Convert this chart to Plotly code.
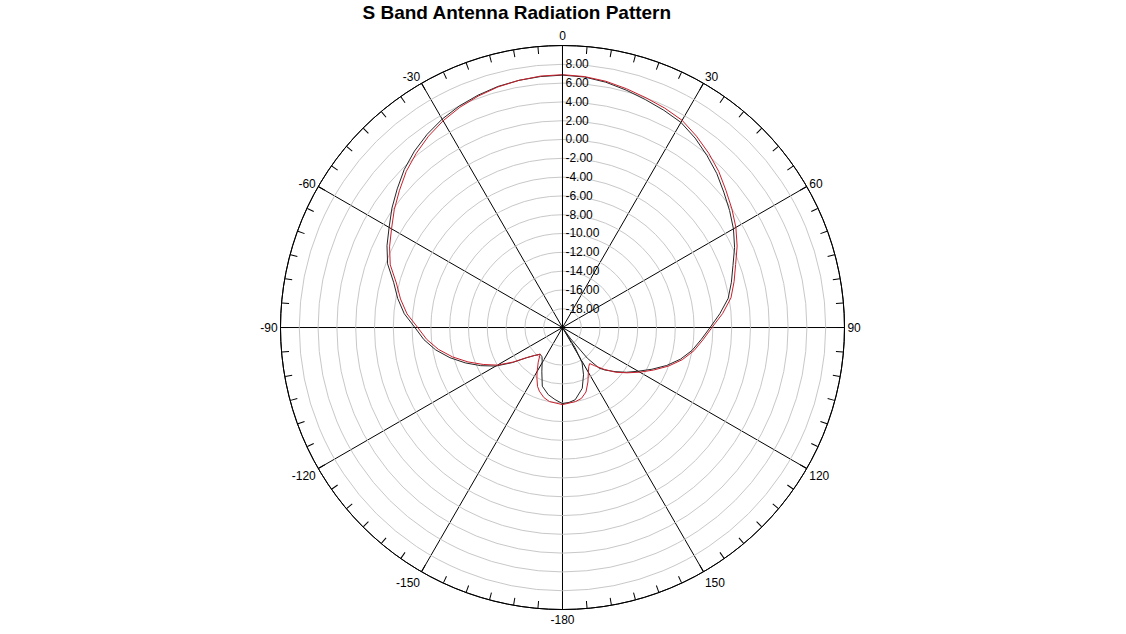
import plotly.graph_objects as go

theta_red = [-180, -170, -165, -160, -157, -153, -150, -145, -140, -137, -135, -130, -125, -120,
             -115, -110, -105, -100, -95, -90, -85, -80, -75, -70, -65, -60, -55, -50, -45, -40,
             -35, -30, -25, -20, -15, -10, -5, 0,
             5, 10, 15, 20, 25, 30, 35, 40, 45, 50, 55, 60, 65, 70, 75, 80, 85, 90,
             95, 100, 105, 110, 115, 120, 125, 130, 135, 140,
             143, 146, 150, 155, 160, 165, 170, 180]
r_red = [-11.8, -12.0, -12.3, -12.8, -13.2, -14.0, -14.6, -15.5, -16.3, -16.0, -15.8, -15.0, -13.6, -12.0,
         -10.7, -9.3, -7.9, -6.6, -5.5, -4.6, -3.4, -2.5, -1.7, -0.5, 0.3, 1.0, 1.85, 2.65, 3.5, 4.2,
         4.85, 5.4, 5.85, 6.2, 6.5, 6.7, 6.85, 6.9,
         6.8, 6.6, 6.3, 6.0, 5.75, 5.45, 4.85, 4.2, 3.5, 2.7, 2.0, 1.3, 0.5, -0.4, -1.1, -1.8, -2.9, -4.1,
         -5.0, -5.8, -6.8, -8.0, -9.3, -10.5, -11.6, -12.6, -13.7, -14.7,
         -15.2, -15.0, -14.5, -13.6, -12.7, -12.2, -12.0, -11.8]

theta_black = [-180, -174, -168, -161, -155, -149, -145, -140, -137, -135, -130, -125, -120,
               -115, -110, -105, -100, -95, -90, -85, -80, -75, -70, -65, -60, -55, -50, -45, -40,
               -35, -30, -25, -20, -15, -10, -5, 0,
               5, 10, 15, 20, 25, 30, 35, 40, 45, 50, 55, 60, 65, 70, 75, 80, 85, 90,
               95, 100, 105, 110, 115, 120, 125, 130, 135, 138,
               141, 144, 146, 148, 151, 156, 162, 170, 175, 180]
r_black = [-11.9, -12.3, -12.7, -13.4, -14.8, -15.8, -16.2, -16.3, -16.0, -15.8, -15.0, -13.5, -11.8,
           -10.4, -9.0, -7.6, -6.3, -5.2, -4.3, -3.1, -2.2, -1.4, -0.2, 0.6, 1.3, 2.15, 2.95, 3.8, 4.5,
           5.1, 5.6, 6.0, 6.3, 6.55, 6.7, 6.8, 6.85,
           6.75, 6.5, 6.15, 5.8, 5.5, 5.2, 4.6, 3.9, 3.2, 2.4, 1.7, 1.0, 0.2, -0.7, -1.4, -2.1, -3.2, -4.3,
           -5.2, -6.0, -7.0, -8.2, -9.5, -10.7, -11.7, -12.7, -13.6, -14.2,
           -15.8, -18.5, -19.8, -17.5, -15.7, -14.5, -13.2, -12.2, -12.0, -11.9]

r_ticks = list(range(-18, 10, 2))
r_labels = ['%.2f' % v for v in r_ticks]
ang_ticks = list(range(0, 360, 30))
ang_labels = ['0', '30', '60', '90', '120', '150', '-180', '-150', '-120', '-90', '-60', '-30']

font = 'Liberation Sans, Arial, sans-serif'

data = [
    go.Scatterpolar(r=r_black, theta=theta_black, mode='lines',
                    line=dict(color='#262626', width=1), subplot='polar'),
    go.Scatterpolar(r=r_red, theta=theta_red, mode='lines',
                    line=dict(color='#c8202c', width=1), subplot='polar'),
    # empty trace so the minor-tick overlay subplot gets drawn
    go.Scatterpolar(r=[None], theta=[0], mode='lines', subplot='polar2', hoverinfo='skip'),
]

# nudged by half a pixel so the spokes land on whole pixels
dom_x = [0.2491, 0.7500]
dom_y = [0.0386, 0.9282]

layout = go.Layout(
    width=1126, height=634,
    margin=dict(l=0, r=0, t=0, b=0),
    paper_bgcolor='white',
    showlegend=False,
    font=dict(family=font, size=12, color='black'),
    title=dict(text='<b>S Band Antenna Radiation Pattern</b>', x=0.459, xanchor='center',
               y=0.981, yanchor='middle', yref='container',
               font=dict(family=font, size=19, color='black')),
    polar=dict(
        domain=dict(x=dom_x, y=dom_y),
        bgcolor='white',
        radialaxis=dict(range=[-20, 10], tickmode='array', tickvals=r_ticks, ticktext=r_labels,
                        angle=90, tickangle=90, side='clockwise',
                        showline=True, linecolor='black', linewidth=1, ticks='',
                        gridcolor='#c8c8c8', gridwidth=1,
                        tickfont=dict(family=font, size=12, color='black')),
        angularaxis=dict(rotation=90, direction='clockwise', tickmode='array',
                         tickvals=ang_ticks, ticktext=ang_labels, ticks='',
                         showline=True, linecolor='black', linewidth=1,
                         gridcolor='black', gridwidth=1,
                         tickfont=dict(family=font, size=12, color='black')),
    ),
    polar2=dict(
        domain=dict(x=dom_x, y=dom_y),
        bgcolor='rgba(0,0,0,0)',
        radialaxis=dict(range=[-20, 10], visible=False),
        angularaxis=dict(rotation=90, direction='clockwise', tickmode='linear', tick0=0, dtick=5,
                         ticks='inside', ticklen=7, tickcolor='black', showticklabels=False,
                         showgrid=False, showline=True, linecolor='black', linewidth=1),
    ),
)

fig = go.Figure(data=data, layout=layout)
fig.write_html('out.html', config={'displayModeBar': False},
               post_script="document.body.style.margin='0';")
